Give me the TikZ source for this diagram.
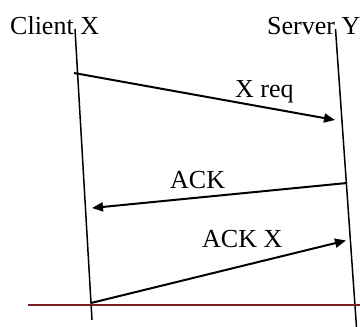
\documentclass[tikz,border=0pt]{standalone}
\usepackage{fontspec}
\setmainfont{Liberation Serif}
\usetikzlibrary{arrows.meta}
\definecolor{darkred}{HTML}{7A1F1F}
\begin{document}
\begin{tikzpicture}[x=1pt,y=-1pt,
  lbl/.style={anchor=base west,inner sep=0pt,font=\fontsize{26}{30}\selectfont},
  lifeline/.style={line width=1.5pt,black},
  msg/.style={line width=2pt,-{Triangle[length=11pt,width=9pt]}},
  baseline line/.style={line width=1.6pt,darkred}]
\useasboundingbox (0,0) rectangle (360,327);
% lifelines
\coordinate (ctop) at (75,29);
\coordinate (cbot) at (92,320);
\coordinate (stop) at (335.5,29);
\coordinate (sbot) at (356.5,327);
\draw[lifeline] (ctop) -- (cbot);
\draw[lifeline] (stop) -- (sbot);
% labels
\node[lbl] (client) at (10,34) {Client X};
\node[lbl] (server) at (267,34) {Server Y};
% messages
\coordinate (m1s) at (74,73);
\coordinate (m1e) at (335,120);
\draw[msg] (m1s) -- (m1e);
\node[lbl] (xreq) at (235,97) {X req};
\coordinate (m2s) at (347,183);
\coordinate (m2e) at (92,208);
\draw[msg] (m2s) -- (m2e);
\node[lbl] (ack) at (170,188) {ACK};
\coordinate (m3s) at (91,303);
\coordinate (m3e) at (346,240.5);
\draw[msg] (m3s) -- (m3e);
\node[lbl] (ackx) at (202,247) {ACK X};
% bottom line
\coordinate (rl) at (28,305);
\coordinate (rr) at (360,305);
\draw[baseline line] (rl) -- (rr);
\end{tikzpicture}
\end{document}
